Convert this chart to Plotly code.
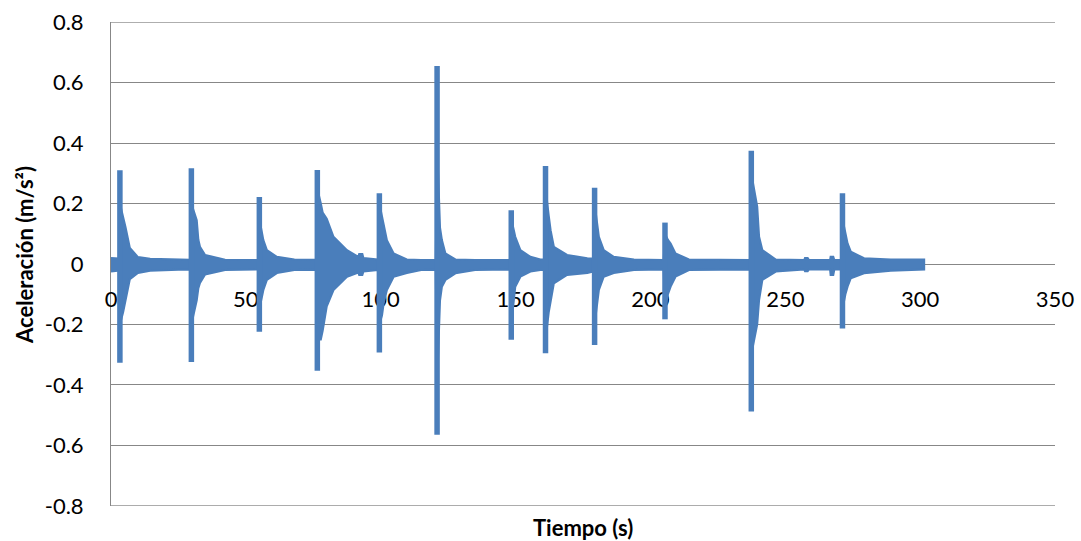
import plotly.graph_objects as go

# Impact spikes: time (s), positive peak, negative peak (m/s^2)
event_t = [3.3, 29.8, 55.0, 76.5, 99.5, 120.9, 148.4, 161.1, 179.3, 205.4, 237.4, 271.2]
event_hi = [0.310, 0.317, 0.222, 0.311, 0.234, 0.655, 0.178, 0.324, 0.252, 0.137, 0.375, 0.234]
event_lo = [-0.327, -0.324, -0.224, -0.353, -0.293, -0.565, -0.251, -0.295, -0.268, -0.183, -0.488, -0.213]

# Envelope of the decaying oscillation band: time (s), upper and lower edge (m/s^2)
env_t = [0.0, 2.5, 3.0, 3.3, 4.5, 5.4, 7.0, 10.0, 14.5, 25.0, 29.3,
         29.8, 31.0, 31.8, 32.4, 33.0, 34.9, 42.3, 54.5,
         55.0, 56.5, 57.8, 61.5, 68.0, 76.0,
         76.5, 77.8, 78.5, 80.0, 82.5, 87.5, 91.7,
         92.0, 93.2, 93.6, 99.0,
         99.5, 100.5, 101.1, 102.3, 104.8, 109.7, 115.0, 120.4,
         120.9, 122.0, 122.7, 124.0, 127.7, 135.0, 147.9,
         148.4, 149.9, 151.8, 155.5, 159.2, 160.6,
         161.1, 162.3, 163.0, 164.2, 169.1, 176.6, 178.8,
         179.3, 180.9, 182.7, 186.4, 193.9, 204.9,
         205.4, 206.5, 207.5, 209.3, 214.3, 236.9,
         237.4, 239.6, 240.3, 241.5, 246.5, 257.0,
         257.3, 258.3, 258.8, 266.6,
         266.8, 267.8, 268.2, 270.7,
         271.2, 272.3, 273.1, 274.3, 279.2, 289.1, 301.5]
env_hi = [0.020, 0.018, 0.018, 0.200, 0.160, 0.122, 0.053, 0.023, 0.017, 0.014, 0.014,
          0.200, 0.170, 0.145, 0.080, 0.057, 0.030, 0.014, 0.013,
          0.150, 0.079, 0.046, 0.024, 0.015, 0.014,
          0.250, 0.200, 0.170, 0.150, 0.090, 0.046, 0.024,
          0.033, 0.033, 0.020, 0.015,
          0.200, 0.160, 0.135, 0.079, 0.035, 0.015, 0.013, 0.013,
          0.400, 0.120, 0.079, 0.035, 0.015, 0.013, 0.013,
          0.150, 0.090, 0.046, 0.024, 0.015, 0.015,
          0.250, 0.160, 0.112, 0.057, 0.030, 0.019, 0.018,
          0.200, 0.090, 0.046, 0.024, 0.015, 0.013,
          0.100, 0.080, 0.068, 0.035, 0.015, 0.013,
          0.300, 0.190, 0.090, 0.046, 0.015, 0.013,
          0.020, 0.020, 0.013, 0.013,
          0.024, 0.024, 0.013, 0.013,
          0.150, 0.100, 0.068, 0.041, 0.019, 0.015, 0.015]
env_lo = [-0.025, -0.022, -0.022, -0.200, -0.160, -0.120, -0.050, -0.030, -0.022, -0.019, -0.019,
          -0.200, -0.150, -0.120, -0.080, -0.063, -0.035, -0.020, -0.018,
          -0.150, -0.086, -0.053, -0.030, -0.020, -0.019,
          -0.250, -0.250, -0.220, -0.140, -0.086, -0.042, -0.028,
          -0.036, -0.036, -0.025, -0.020,
          -0.200, -0.170, -0.130, -0.086, -0.042, -0.030, -0.020, -0.019,
          -0.400, -0.120, -0.075, -0.053, -0.031, -0.020, -0.018,
          -0.200, -0.075, -0.042, -0.025, -0.020, -0.020,
          -0.250, -0.160, -0.119, -0.064, -0.036, -0.030, -0.025,
          -0.200, -0.086, -0.042, -0.030, -0.020, -0.018,
          -0.150, -0.100, -0.075, -0.042, -0.020, -0.018,
          -0.300, -0.200, -0.119, -0.053, -0.025, -0.018,
          -0.024, -0.024, -0.018, -0.018,
          -0.036, -0.036, -0.018, -0.018,
          -0.150, -0.100, -0.075, -0.047, -0.031, -0.022, -0.018]

y_ticks = [-0.8, -0.6, -0.4, -0.2, 0, 0.2, 0.4, 0.6, 0.8]
y_labels = ["-0.8", "-0.6", "-0.4", "-0.2", "0", "0.2", "0.4", "0.6", "0.8"]
x_ticks = [0, 50, 100, 150, 200, 250, 300, 350]

BLUE = "#4A7EBB"
GRID = "#878787"
FONT = "Lato"

L, R, T, B = 111, 26, 22, 35
W, H = 1081, 541
plot_w = W - L - R
plot_h = H - T - B

fig = go.Figure()

# band polygon: upper edge forward, lower edge backward
poly_x = env_t + env_t[::-1]
poly_y = env_hi + env_lo[::-1]
fig.add_trace(go.Scatter(x=poly_x, y=poly_y, mode="lines", fill="toself",
                         fillcolor=BLUE, line=dict(color=BLUE, width=2),
                         hoverinfo="skip", showlegend=False))

# spikes
sx, sy = [], []
for t, hi, lo in zip(event_t, event_hi, event_lo):
    sx += [t, t, None]
    sy += [lo, hi, None]
fig.add_trace(go.Scatter(x=sx, y=sy, mode="lines",
                         line=dict(color=BLUE, width=5.5),
                         hoverinfo="skip", showlegend=False))

# edge gridlines (plotly skips grid lines that fall on the plot border)
for yv in (y_ticks[0], y_ticks[-1]):
    fig.add_shape(type="line", xref="paper", yref="y", x0=0, x1=1, y0=yv, y1=yv,
                  line=dict(color=GRID, width=1), layer="below")

fig.update_layout(
    width=W, height=H,
    margin=dict(l=L, r=R, t=T, b=B, autoexpand=False),
    paper_bgcolor="white", plot_bgcolor="white",
    font=dict(family=FONT, size=22, color="#000000"),
    showlegend=False,
    xaxis=dict(range=[0, 350], tickvals=x_ticks, ticktext=[str(v) for v in x_ticks],
               showgrid=False, zeroline=False, showline=True, linecolor=GRID, linewidth=1,
               anchor="free", position=0.5, ticks="", ticklabelstandoff=16,
               automargin=False, layer="below traces",
               tickfont=dict(family=FONT, size=22)),
    yaxis=dict(range=[-0.8006, 0.8006], tickvals=y_ticks, ticktext=y_labels,
               showgrid=True, gridcolor=GRID, gridwidth=1, zeroline=False,
               showline=True, linecolor=GRID, linewidth=1, ticks="",
               automargin=False, layer="below traces",
               ticklabelstandoff=22, tickfont=dict(family=FONT, size=22)),
    annotations=[
        dict(text="<b>Tiempo (s)</b>", xref="paper", yref="paper",
             x=0.5, y=(506 - 527) / plot_h, xanchor="center", yanchor="middle",
             showarrow=False, font=dict(family=FONT, size=22)),
        dict(text="<b>Aceleración (m/s²)</b>", textangle=-90, xref="paper", yref="paper",
             x=(24 - L) / plot_w, y=(506 - 255) / plot_h, xanchor="center", yanchor="middle",
             showarrow=False, font=dict(family=FONT, size=22)),
    ],
)

fig.write_html(
    "out.html",
    config={"displayModeBar": False},
    post_script="document.body.style.margin='0';document.body.style.padding='0';"
                "document.body.style.overflow='hidden';",
)
